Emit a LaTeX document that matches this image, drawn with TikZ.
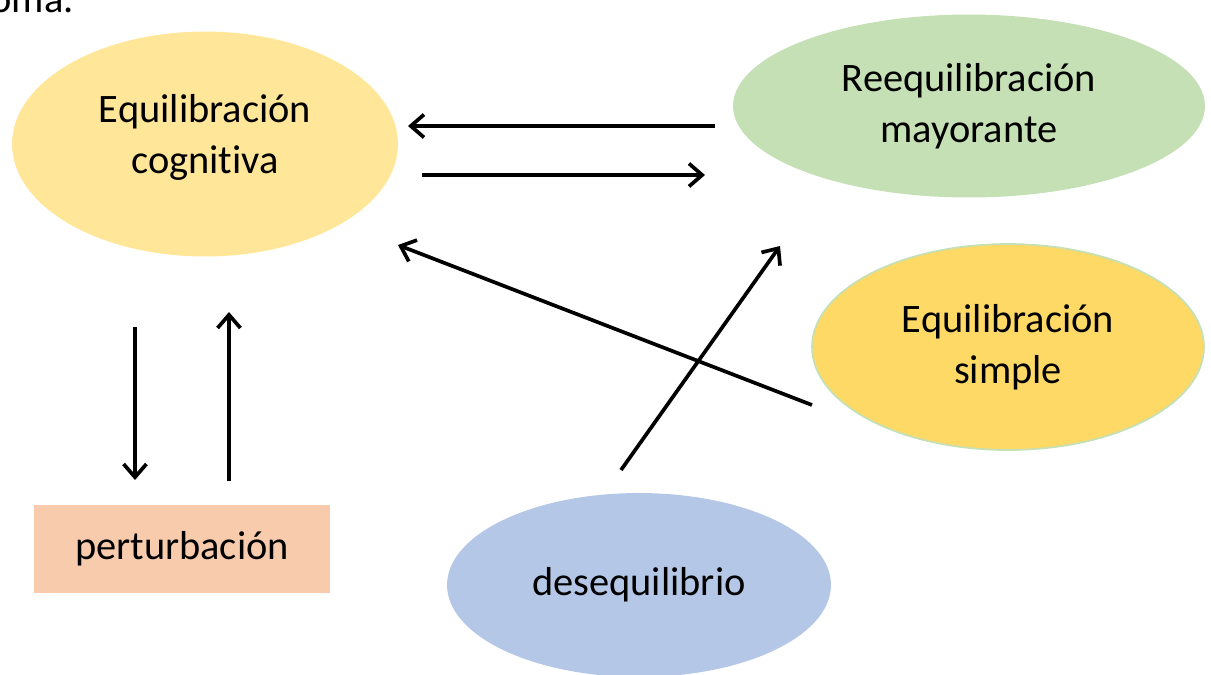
\documentclass[tikz,border=0pt]{standalone}
\usepackage{fontspec}
\setmainfont{Carlito}[Ligatures={NoCommon}]
\usetikzlibrary{shapes.geometric}
\usetikzlibrary{arrows.meta}

\definecolor{cogfill}{HTML}{FFE699}
\definecolor{mayfill}{HTML}{C5E0B4}
\definecolor{simfill}{HTML}{FFD966}
\definecolor{desfill}{HTML}{B4C7E7}
\definecolor{perfill}{HTML}{F8CBAD}

\tikzset{
  bubble/.style={ellipse, inner sep=0pt, align=center,
    font=\fontsize{23}{29}\selectfont},
  flow/.style={->, line width=2.1pt},
}

\begin{document}
\begin{tikzpicture}[%
  >={Straight Barb[length=7.5pt,width=13pt]},
  x=0.02cm, y=-0.02cm,
]

  \useasboundingbox (0,0) rectangle (1211,674);

  \node[anchor=base east, font=\fontsize{23}{29}\selectfont] (top) at (80,12) {uoma.};

  \node[bubble, fill=cogfill, minimum width=7.72cm, minimum height=4.5cm,
    label={[font=\fontsize{23}{29}\selectfont, align=center, yshift=4pt]center:Equilibración\\cognitiva}]
    (cog) at (205,144) {};
  \node[bubble, fill=mayfill, minimum width=9.44cm, minimum height=3.66cm]
    (may) at (969,106) {Reequilibración\\mayorante};
  \node[bubble, fill=simfill, draw=mayfill, line width=1pt,
    minimum width=7.84cm, minimum height=4.12cm]
    (sim) at (1008,347) {Equilibración\\simple};
  \node[bubble, fill=desfill, minimum width=7.68cm, minimum height=3.68cm]
    (des) at (639,585) {desequilibrio};
  \node[rectangle, fill=perfill, minimum width=5.94cm, minimum height=1.76cm,
    font=\fontsize{23}{29}\selectfont]
    (per) at (182,549) {perturbación};

  % free ends of the arrows
  \coordinate (c1a) at (715,126);
  \coordinate (c1b) at (408,126);
  \coordinate (c2a) at (422,175);
  \coordinate (c2b) at (705,175);
  \coordinate (c3a) at (135,327);
  \coordinate (c3b) at (135,480);
  \coordinate (c4a) at (229,481);
  \coordinate (c4b) at (229,312);
  \coordinate (c5a) at (812,405);
  \coordinate (c5b) at (398,245);
  \coordinate (c6a) at (621,470);
  \coordinate (c6b) at (780,246);

  \draw[flow] (c1a) -- (c1b);
  \draw[flow] (c2a) -- (c2b);
  \draw[flow] (c3a) -- (c3b);
  \draw[flow] (c4a) -- (c4b);
  \draw[flow] (c5a) -- (c5b);
  \draw[flow] (c6a) -- (c6b);

\end{tikzpicture}
\end{document}
